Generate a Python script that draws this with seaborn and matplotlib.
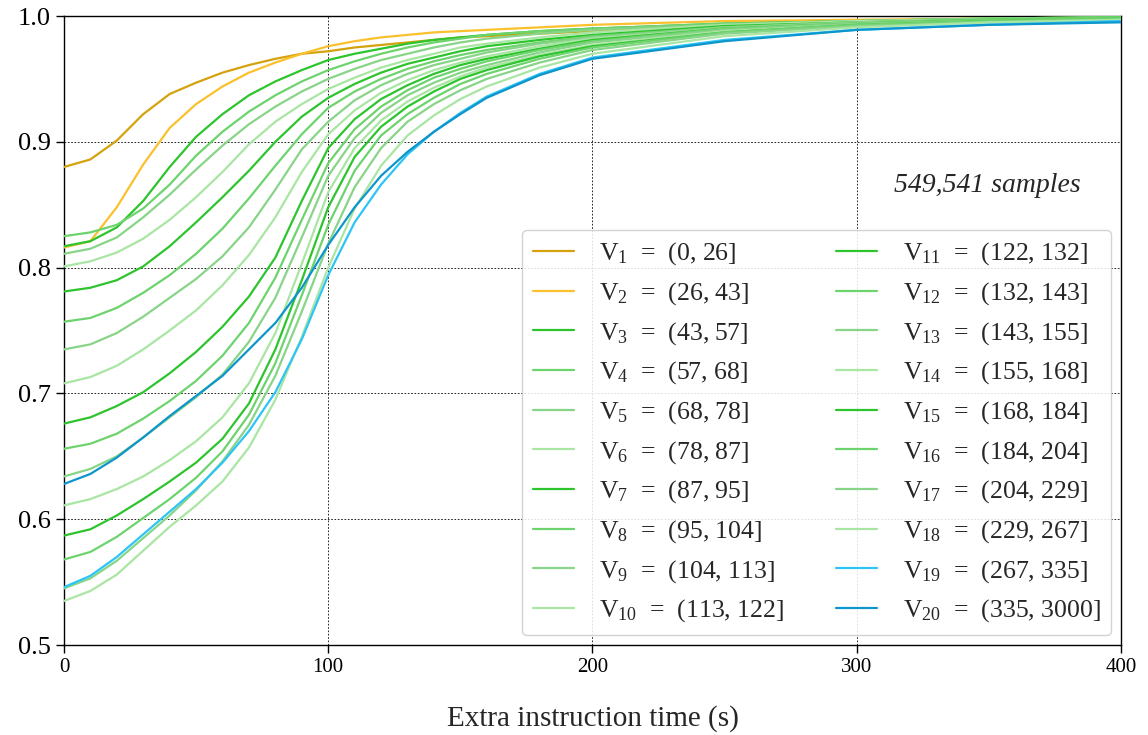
import numpy as np
import pandas as pd
import seaborn as sns
import matplotlib.pyplot as plt

# extra instruction time grid (s)
x = [0, 10, 20, 30, 40, 50, 60, 70, 80, 90, 100, 110, 120, 130, 140, 150, 160, 180, 200, 250, 300, 350, 400]

v1 = [0.880, 0.886, 0.901, 0.922, 0.938, 0.947, 0.955, 0.961, 0.966, 0.970, 0.972, 0.975, 0.977, 0.979, 0.981, 0.983, 0.984, 0.986, 0.988, 0.992, 0.995, 0.997, 0.998]
v2 = [0.816, 0.821, 0.848, 0.882, 0.911, 0.930, 0.944, 0.955, 0.963, 0.970, 0.976, 0.980, 0.983, 0.985, 0.987, 0.988, 0.989, 0.991, 0.993, 0.996, 0.997, 0.998, 0.999]
v3 = [0.817, 0.821, 0.832, 0.853, 0.880, 0.904, 0.922, 0.937, 0.948, 0.957, 0.965, 0.970, 0.974, 0.978, 0.981, 0.983, 0.985, 0.988, 0.990, 0.994, 0.996, 0.998, 0.999]
v4 = [0.825, 0.828, 0.834, 0.847, 0.866, 0.889, 0.908, 0.924, 0.937, 0.948, 0.957, 0.964, 0.970, 0.975, 0.979, 0.982, 0.985, 0.988, 0.990, 0.994, 0.996, 0.998, 0.999]
v5 = [0.811, 0.815, 0.824, 0.840, 0.858, 0.878, 0.897, 0.914, 0.928, 0.940, 0.950, 0.958, 0.965, 0.970, 0.975, 0.979, 0.982, 0.986, 0.989, 0.993, 0.996, 0.998, 0.999]
v6 = [0.801, 0.805, 0.812, 0.823, 0.838, 0.856, 0.876, 0.898, 0.916, 0.930, 0.942, 0.951, 0.959, 0.965, 0.970, 0.975, 0.978, 0.983, 0.987, 0.993, 0.996, 0.997, 0.999]
v7 = [0.781, 0.784, 0.790, 0.801, 0.817, 0.836, 0.856, 0.877, 0.900, 0.920, 0.935, 0.946, 0.955, 0.962, 0.967, 0.972, 0.976, 0.981, 0.985, 0.992, 0.995, 0.997, 0.999]
v8 = [0.757, 0.760, 0.768, 0.780, 0.794, 0.811, 0.831, 0.855, 0.881, 0.906, 0.927, 0.940, 0.950, 0.958, 0.964, 0.969, 0.973, 0.979, 0.984, 0.991, 0.995, 0.997, 0.999]
v9 = [0.735, 0.739, 0.748, 0.761, 0.776, 0.791, 0.809, 0.832, 0.862, 0.894, 0.916, 0.933, 0.945, 0.954, 0.961, 0.966, 0.971, 0.978, 0.983, 0.991, 0.995, 0.997, 0.998]
v10 = [0.708, 0.713, 0.722, 0.735, 0.750, 0.766, 0.786, 0.810, 0.840, 0.876, 0.906, 0.925, 0.939, 0.949, 0.957, 0.963, 0.968, 0.976, 0.982, 0.990, 0.994, 0.997, 0.998]
v11 = [0.676, 0.681, 0.690, 0.701, 0.716, 0.733, 0.753, 0.777, 0.808, 0.853, 0.895, 0.918, 0.934, 0.945, 0.954, 0.961, 0.966, 0.974, 0.981, 0.990, 0.994, 0.997, 0.998]
v12 = [0.656, 0.660, 0.668, 0.680, 0.694, 0.710, 0.730, 0.756, 0.792, 0.838, 0.883, 0.910, 0.928, 0.941, 0.951, 0.958, 0.964, 0.973, 0.980, 0.990, 0.994, 0.997, 0.998]
v13 = [0.634, 0.640, 0.650, 0.665, 0.681, 0.697, 0.715, 0.741, 0.776, 0.824, 0.873, 0.903, 0.923, 0.937, 0.947, 0.955, 0.961, 0.971, 0.979, 0.989, 0.994, 0.996, 0.998]
v14 = [0.611, 0.616, 0.624, 0.634, 0.647, 0.662, 0.681, 0.708, 0.748, 0.803, 0.860, 0.895, 0.917, 0.932, 0.943, 0.952, 0.959, 0.969, 0.977, 0.988, 0.993, 0.996, 0.998]
v15 = [0.587, 0.592, 0.603, 0.616, 0.630, 0.645, 0.664, 0.692, 0.735, 0.790, 0.848, 0.888, 0.912, 0.928, 0.940, 0.950, 0.957, 0.968, 0.976, 0.987, 0.993, 0.996, 0.998]
v16 = [0.568, 0.574, 0.586, 0.601, 0.616, 0.633, 0.654, 0.683, 0.724, 0.778, 0.834, 0.877, 0.905, 0.922, 0.935, 0.946, 0.954, 0.966, 0.975, 0.987, 0.993, 0.996, 0.998]
v17 = [0.545, 0.553, 0.567, 0.585, 0.603, 0.623, 0.646, 0.675, 0.714, 0.765, 0.819, 0.864, 0.895, 0.916, 0.930, 0.941, 0.950, 0.963, 0.973, 0.986, 0.992, 0.995, 0.997]
v18 = [0.535, 0.543, 0.556, 0.575, 0.594, 0.611, 0.630, 0.657, 0.695, 0.745, 0.800, 0.847, 0.881, 0.905, 0.921, 0.934, 0.944, 0.959, 0.970, 0.984, 0.991, 0.995, 0.997]
v19 = [0.546, 0.555, 0.570, 0.588, 0.606, 0.624, 0.645, 0.670, 0.701, 0.743, 0.794, 0.836, 0.866, 0.890, 0.908, 0.923, 0.936, 0.954, 0.967, 0.981, 0.989, 0.993, 0.996]
v20 = [0.628, 0.636, 0.649, 0.665, 0.682, 0.698, 0.714, 0.735, 0.756, 0.784, 0.818, 0.848, 0.873, 0.892, 0.908, 0.922, 0.935, 0.953, 0.966, 0.980, 0.989, 0.993, 0.995]

series = [v1, v2, v3, v4, v5, v6, v7, v8, v9, v10,
          v11, v12, v13, v14, v15, v16, v17, v18, v19, v20]

bins = ['(0, 26]', '(26, 43]', '(43, 57]', '(57, 68]', '(68, 78]', '(78, 87]', '(87, 95]',
        '(95, 104]', '(104, 113]', '(113, 122]', '(122, 132]', '(132, 143]', '(143, 155]',
        '(155, 168]', '(168, 184]', '(184, 204]', '(204, 229]', '(229, 267]', '(267, 335]',
        '(335, 3000]']

greens = ['#2dc42d', '#6dd36d', '#88d488', '#a9e5a3']
colors = ['#d4a20c', '#fbc02d'] + greens * 4 + ['#2ec4f5', '#0e96cc']

sns.set_style('ticks')
plt.rcParams['font.family'] = ['Liberation Serif', 'DejaVu Serif']
plt.rcParams['mathtext.fontset'] = 'custom'
plt.rcParams['mathtext.rm'] = 'Liberation Serif'
plt.rcParams['mathtext.it'] = 'Liberation Serif:italic'

fig = plt.figure(figsize=(11.48, 7.35), dpi=100)
ax = fig.add_axes([0.0557, 0.1224, 0.9208, 0.8558])

for i, vals in enumerate(series):
    df = pd.DataFrame({'t': x, 'p': vals})
    label = 'V$_{%d}$  =  %s' % (i + 1, bins[i])
    sns.lineplot(data=df, x='t', y='p', color=colors[i], linewidth=1.6,
                 label=label, ax=ax, zorder=3)

ax.set_xlim(0, 400)
ax.set_ylim(0.5, 1.0)
ax.set_xticks([0, 100, 200, 300, 400])
ax.set_yticks([0.5, 0.6, 0.7, 0.8, 0.9, 1.0])
ax.grid(True, color='black', linestyle=(0, (2, 2)), linewidth=0.6, zorder=0)
ax.tick_params(axis='y', labelsize=19, direction='out', length=6, width=1, colors='black')
ax.tick_params(axis='x', labelsize=15, direction='out', length=6, width=1, colors='black')
for s in ax.spines.values():
    s.set_color('black')
    s.set_linewidth(1.0)

ax.set_xlabel('Extra instruction time (s)', fontsize=21, labelpad=20)
ax.set_ylabel('')

ax.text(0.962, 0.731, '549,541 samples', transform=ax.transAxes, ha='right', va='center',
        fontsize=20, style='italic')

ax.legend(ncol=2, loc='lower right', fontsize=18.5, frameon=True, framealpha=0.85,
          edgecolor='#cccccc', handlelength=1.6, handletextpad=1.0, columnspacing=2.0,
          labelspacing=0.5, borderaxespad=0.4, bbox_to_anchor=(1.0, 0.0))

fig.savefig('out.png', dpi=100)
